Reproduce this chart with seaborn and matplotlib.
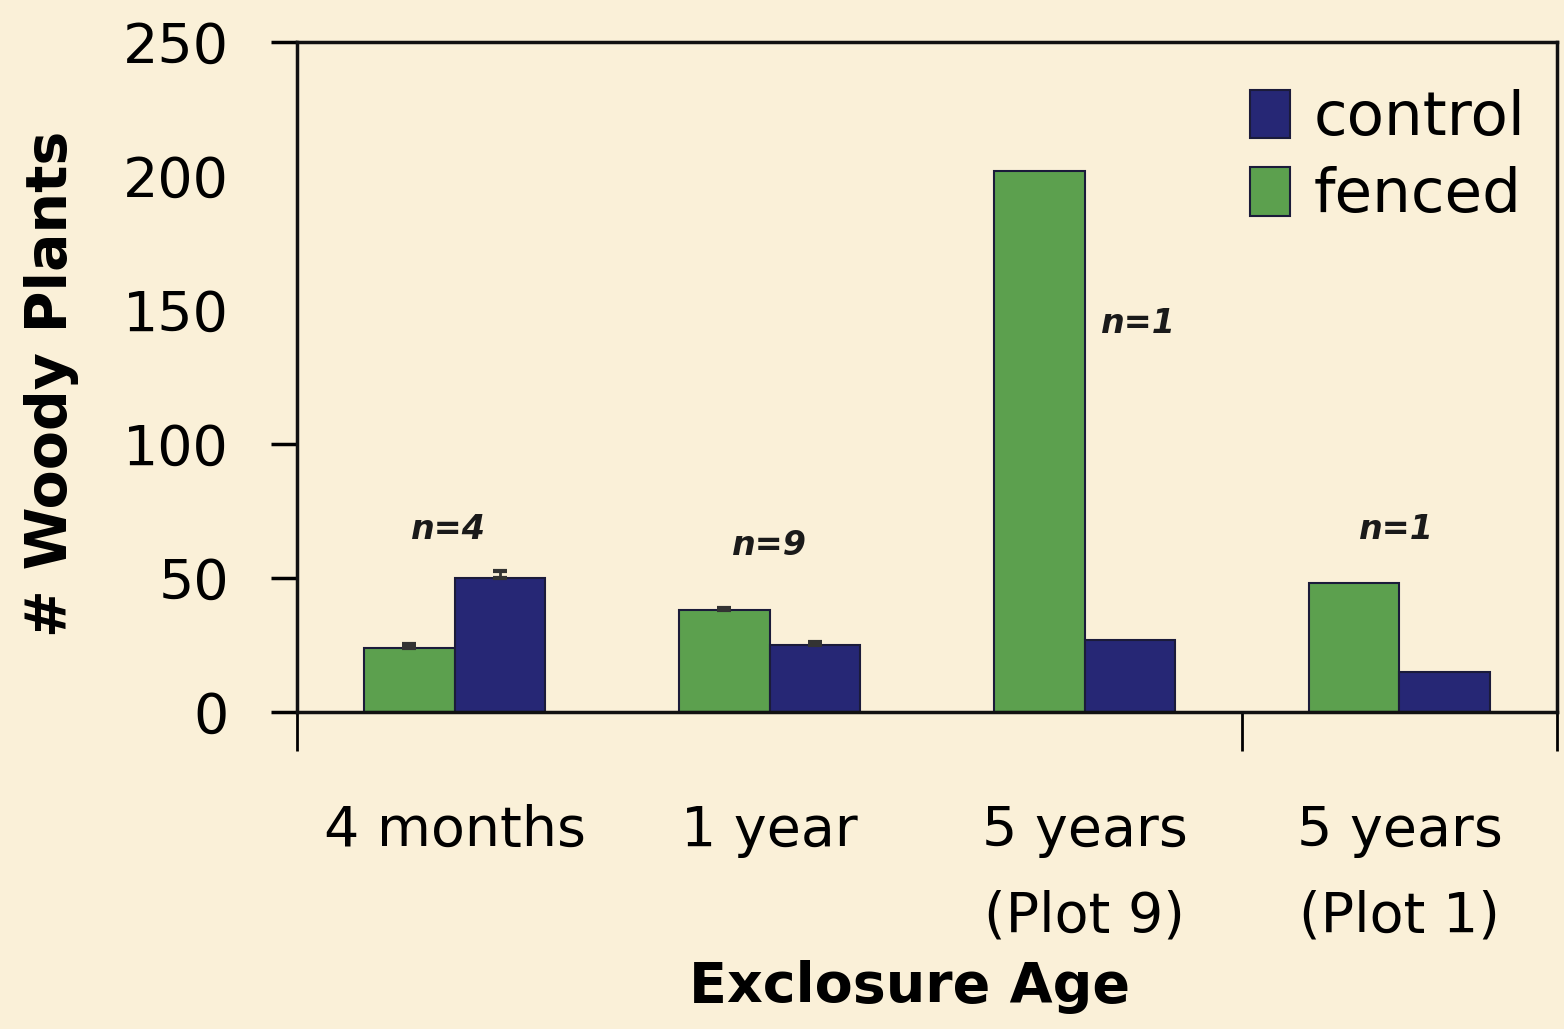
import numpy as np
import pandas as pd
import matplotlib.pyplot as plt
import seaborn as sns

# datos
ages = ['4 months', '1 year', '5 years\n(Plot 9)', '5 years\n(Plot 1)']
fenced = [24, 38, 202, 48]
control = [50, 25, 27, 15]
fenced_err = [1.5, 0.7, 0, 0]
control_err = [2.5, 1.0, 0, 0]
n_labels = ['n=4', 'n=9', 'n=1', 'n=1']

bg = '#FAF0D8'
green = '#5CA04E'
navy = '#262775'

df = pd.DataFrame({
    'age': ages * 2,
    'plants': fenced + control,
    'treatment': ['fenced'] * len(ages) + ['control'] * len(ages),
})

sns.set_style('white')
plt.rcParams['font.family'] = ['DejaVu Sans']
plt.rcParams['text.color'] = 'black'
plt.rcParams['axes.labelcolor'] = 'black'
plt.rcParams['xtick.color'] = 'black'
plt.rcParams['ytick.color'] = 'black'

fig = plt.figure(figsize=(15.64, 10.29), dpi=100, facecolor=bg)
ax = fig.add_axes([0.19, 0.308, 0.8055, 0.651])
ax.set_facecolor(bg)

sns.barplot(data=df, x='age', y='plants', hue='treatment',
            hue_order=['fenced', 'control'], order=ages,
            palette={'fenced': green, 'control': navy},
            width=0.575, edgecolor='#1b1b3a', linewidth=1.5,
            saturation=1, ax=ax)

# barras de error (solo hacia arriba)
for cont, errs in zip(ax.containers, [fenced_err, control_err]):
    for bar, e in zip(cont, errs):
        if e > 0:
            xc = bar.get_x() + bar.get_width() / 2
            ax.errorbar(xc, bar.get_height(), yerr=[[0], [e]], fmt='none',
                        ecolor='#333333', elinewidth=2, capsize=5, capthick=3)

# etiquetas n=
n_pos = [(-0.02, 68), (1.0, 62), (2.17, 145), (2.99, 68)]
for (x, y), t in zip(n_pos, n_labels):
    ax.text(x, y, t, ha='center', va='center', fontsize=24,
            fontstyle='italic', fontweight='bold', color='#1a1a1a')

ax.set_ylim(0, 250)
ax.set_xlim(-0.5, 3.5)
ax.set_yticks([0, 50, 100, 150, 200, 250])
ax.tick_params(axis='y', labelsize=40, length=19, width=2.5, direction='out',
               left=True, pad=30)
for i, tl in enumerate(ax.yaxis.get_major_ticks()):
    if i in (3, 4):
        tl.tick1line.set_visible(False)

ax.set_xticks(range(len(ages)))
ax.set_xticklabels(ages, fontsize=40, linespacing=1.75)
ax.tick_params(axis='x', length=0, pad=66)
ax.set_xticks([-0.5, 2.5, 3.5], minor=True)
ax.tick_params(axis='x', which='minor', length=28, width=2, direction='out',
               bottom=True)

for s in ax.spines.values():
    s.set_visible(True)
    s.set_linewidth(2.5)
    s.set_color('#111111')

ax.set_xlabel('Exclosure Age', fontsize=40, fontweight='bold')
ax.xaxis.set_label_coords(0.486, -0.37)
ax.set_ylabel('# Woody Plants', fontsize=41, fontweight='bold')
ax.yaxis.set_label_coords(-0.173, 0.49)

handles, labels = ax.get_legend_handles_labels()
ax.legend(handles[::-1], labels[::-1], loc='upper right',
          bbox_to_anchor=(1.019, 1.012), frameon=False, fontsize=44,
          handlelength=0.65, handleheight=0.85, handletextpad=0.4,
          labelspacing=0.3)

plt.savefig('out.png', dpi=100, facecolor=bg)
plt.close()
